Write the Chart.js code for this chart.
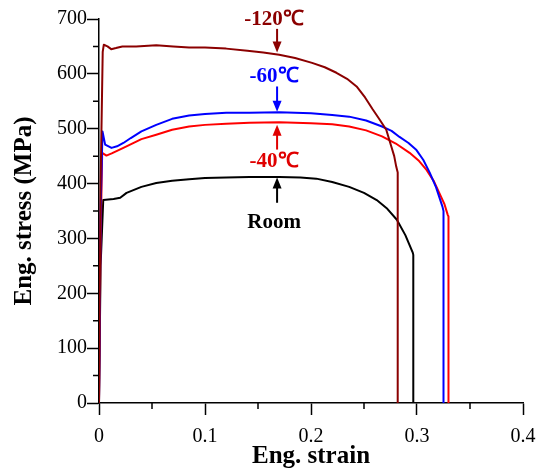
<!DOCTYPE html>
<html>
<head>
<meta charset="utf-8">
<title>Eng. stress-strain</title>
<script src="https://cdn.jsdelivr.net/npm/chart.js@4.4.1/dist/chart.umd.min.js"></script>
<style>
    body { margin: 0; background: #fff; }
    #wrap { width: 539px; height: 473px; }
</style>
</head>
<body>
<div id="wrap"><canvas id="chart" width="539" height="473"></canvas></div>
<script>
// region: data

const strainM120 = [0, 0.0015, 0.0035, 0.0045, 0.008, 0.0115, 0.016, 0.022, 0.035, 0.054, 0.07, 0.085, 0.10, 0.12, 0.14,
    0.155, 0.17, 0.185, 0.201, 0.213, 0.224, 0.234, 0.243, 0.251, 0.258, 0.265, 0.271, 0.2757, 0.2785, 0.2804, 0.2818, 0.2818];
const stressM120 = [0, 400, 640, 653, 650, 645, 647, 650, 650, 652, 650, 648, 648, 646, 642,
    639, 635, 629, 620, 612, 602, 591, 577, 557, 536, 516, 498, 468, 450, 431, 420, 0];

const strainM60 = [0, 0.0015, 0.0033, 0.0058, 0.0118, 0.017, 0.023, 0.03, 0.04, 0.054, 0.069, 0.085, 0.10, 0.12, 0.142,
    0.17, 0.2, 0.22, 0.236, 0.252, 0.267, 0.276, 0.2835, 0.292, 0.2995, 0.306, 0.312, 0.318, 0.324, 0.325, 0.325];
const stressM60 = [0, 350, 495, 471, 465, 468, 474, 483, 495, 507, 518, 524, 527, 529, 529,
    530, 528, 525, 522, 515, 504, 496, 485, 474, 461, 443, 420, 393, 358, 350, 0];

const strainM40 = [0, 0.0015, 0.003, 0.007, 0.012, 0.023, 0.04, 0.054, 0.069, 0.085, 0.10, 0.12, 0.142, 0.17, 0.2,
    0.22, 0.236, 0.252, 0.267, 0.28, 0.293, 0.302, 0.309, 0.316, 0.321, 0.326, 0.329, 0.3297, 0.3297];
const stressM40 = [0, 300, 456, 451, 455, 465, 481, 489, 498, 504, 507, 509, 511, 512, 510,
    508, 504, 497, 486, 473, 456, 441, 425, 404, 383, 362, 343, 340, 0];

const strainRoom = [0, 0.0015, 0.004, 0.0137, 0.02, 0.026, 0.04, 0.054, 0.069, 0.085, 0.10, 0.12, 0.142, 0.17, 0.19,
    0.205, 0.22, 0.236, 0.25, 0.262, 0.272, 0.281, 0.289, 0.296, 0.2965, 0.2965];
const stressRoom = [0, 250, 370, 372, 374, 383, 394, 401, 405, 408, 410, 411, 412, 412, 411,
    409, 403, 394, 383, 370, 354, 334, 306, 274, 270, 0];

const xTicks = [0, 0.1, 0.2, 0.3, 0.4];
const yTicks = [0, 100, 200, 300, 400, 500, 600, 700];
const xMinorTicks = [0.05, 0.15, 0.25, 0.35];
const yMinorTicks = [50, 150, 250, 350, 450, 550, 650];

// labels with arrows: text, label y, arrow from y, arrow tip y (all in MPa, at strain 0.168)
const noteText = ['-120℃', '-60℃', '-40℃', 'Room'];
const noteLabelY = [699, 595, 440, 328];
const noteArrowFrom = [682, 577, 462, 365];
const noteArrowTo = [639, 531, 507, 411];
const noteStrain = 0.168;

// endregion

const colors = ['#8b0000', '#0000ff', '#ff0000', '#000000'];
const noteColors = ['#8b0000', '#0000ff', '#e00000', '#000000'];

function toPoints(xs, ys) {
    return xs.map((x, i) => ({x: x, y: ys[i]}));
}

const serif = '"Liberation Serif", "Times New Roman", serif';

// minor ticks and the arrow notes
const extrasPlugin = {
    id: 'extras',
    afterDatasetsDraw(chart) {
        const ctx = chart.ctx;
        const xs = chart.scales.x;
        const ys = chart.scales.y;
        const area = chart.chartArea;

        ctx.save();
        ctx.strokeStyle = '#000';
        ctx.lineWidth = 1.5;
        ctx.beginPath();
        xMinorTicks.forEach(v => {
            const px = xs.getPixelForValue(v);
            ctx.moveTo(px, area.bottom);
            ctx.lineTo(px, area.bottom + 6);
        });
        yMinorTicks.forEach(v => {
            const py = ys.getPixelForValue(v);
            ctx.moveTo(area.left, py);
            ctx.lineTo(area.left - 6, py);
        });
        ctx.stroke();

        const ax = xs.getPixelForValue(noteStrain);
        noteText.forEach((t, i) => {
            const c = noteColors[i];
            const y0 = ys.getPixelForValue(noteArrowFrom[i]);
            const y1 = ys.getPixelForValue(noteArrowTo[i]);
            const dir = y1 > y0 ? 1 : -1;
            ctx.strokeStyle = c;
            ctx.fillStyle = c;
            ctx.lineWidth = 2;
            ctx.beginPath();
            ctx.moveTo(ax, y0);
            ctx.lineTo(ax, y1 - dir * 8);
            ctx.stroke();
            ctx.beginPath();
            ctx.moveTo(ax, y1);
            ctx.lineTo(ax - 4.5, y1 - dir * 11);
            ctx.lineTo(ax + 4.5, y1 - dir * 11);
            ctx.closePath();
            ctx.fill();

            ctx.font = 'bold 21px ' + serif;
            ctx.textAlign = 'center';
            ctx.textBaseline = 'middle';
            ctx.fillText(t, ax - 3, ys.getPixelForValue(noteLabelY[i]));
        });
        ctx.restore();
    }
};

new Chart(document.getElementById('chart'), {
    type: 'scatter',
    data: {
        datasets: [
            {label: '-120', data: toPoints(strainM120, stressM120)},
            {label: '-60', data: toPoints(strainM60, stressM60)},
            {label: '-40', data: toPoints(strainM40, stressM40)},
            {label: 'Room', data: toPoints(strainRoom, stressRoom)}
        ].map((d, i) => Object.assign(d, {
            showLine: true,
            borderColor: colors[i],
            backgroundColor: colors[i],
            borderWidth: 2,
            pointRadius: 0,
            tension: 0,
            borderJoinStyle: 'round',
            fill: false
        }))
    },
    options: {
        responsive: false,
        animation: false,
        layout: {padding: {top: 19, right: 16, bottom: 0, left: 0}},
        plugins: {legend: {display: false}, tooltip: {enabled: false}},
        scales: {
            x: {
                type: 'linear',
                min: 0,
                max: 0.4,
                afterBuildTicks: s => { s.ticks = xTicks.map(v => ({value: v})); },
                afterFit: s => { s.height = 70; s.paddingLeft = 0; s.paddingRight = 0; },
                border: {color: '#000', width: 1.5},
                grid: {drawOnChartArea: false, drawTicks: true, tickLength: 12, tickColor: '#000', tickWidth: 1.5},
                ticks: {color: '#000', padding: 10, maxRotation: 0, font: {family: serif, size: 20}},
                title: {display: true, text: 'Eng. strain', color: '#000', padding: {top: 0, bottom: 1},
                    font: {family: serif, size: 25, weight: 'bold'}}
            },
            y: {
                min: 0,
                max: 700,
                afterBuildTicks: s => { s.ticks = yTicks.map(v => ({value: v})); },
                afterFit: s => { s.width = 99; },
                border: {color: '#000', width: 1.5},
                grid: {drawOnChartArea: false, drawTicks: true, tickLength: 12, tickColor: '#000', tickWidth: 1.5},
                ticks: {color: '#000', padding: 0, font: {family: serif, size: 20}},
                title: {display: true, text: 'Eng. stress (MPa)', color: '#000', padding: {top: 10, bottom: 0},
                    font: {family: serif, size: 25, weight: 'bold'}}
            }
        }
    },
    plugins: [extrasPlugin]
});
</script>
</body>
</html>
